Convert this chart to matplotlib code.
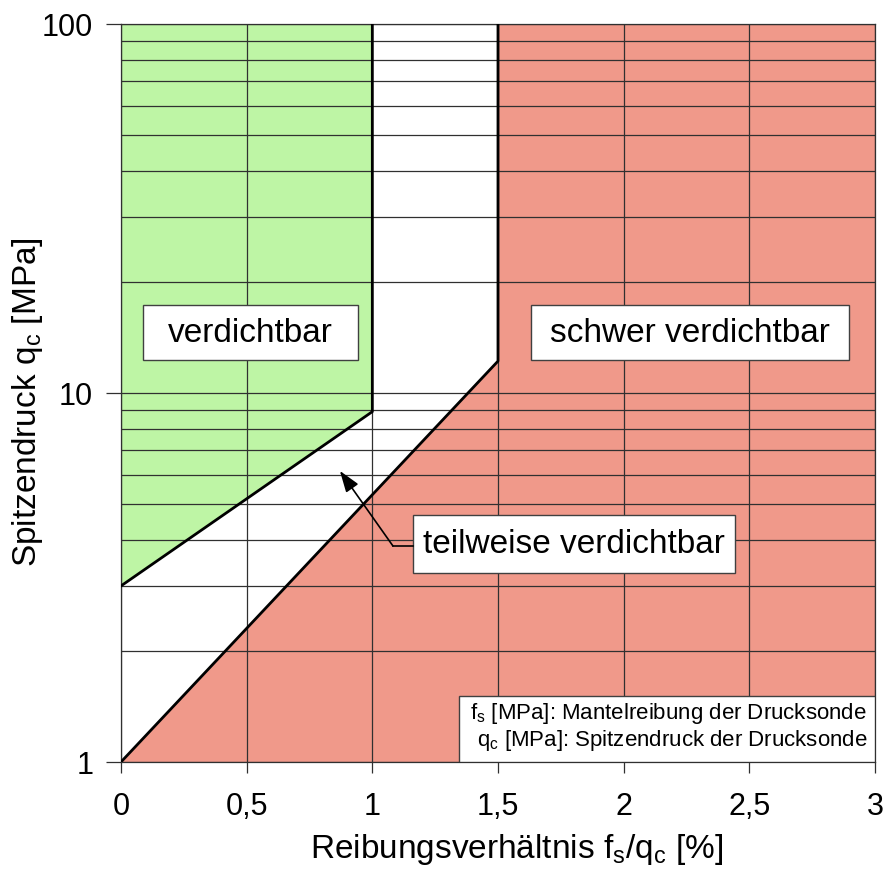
import numpy as np
import matplotlib.pyplot as plt
from matplotlib.patches import Rectangle

plt.rcParams['font.family'] = ['Liberation Sans', 'DejaVu Sans']
plt.rcParams['mathtext.fontset'] = 'custom'
plt.rcParams['mathtext.rm'] = 'Liberation Sans'
plt.rcParams['mathtext.it'] = 'Liberation Sans'

# Grenzlinien (Reibungsverhältnis [%], Spitzendruck [MPa])
grenze_gruen_x = [0, 1.0, 1.0]
grenze_gruen_y = [3.0, 8.9, 100]
grenze_rot_x = [0, 1.5, 1.5]
grenze_rot_y = [1.0, 12.2, 100]

x_ticks = [0, 0.5, 1, 1.5, 2, 2.5, 3]
x_labels = ['0', '0,5', '1', '1,5', '2', '2,5', '3']
y_ticks = [1, 10, 100]

gruen = '#BEF5A5'
rot = '#F0998A'

fig = plt.figure(figsize=(8.85, 8.7), dpi=100)
ax = fig.add_axes([0.1367, 0.123, 0.852, 0.8483])
ax.set_yscale('log')
ax.set_xlim(0, 3)
ax.set_ylim(1, 100)

# Flächen
ax.fill(grenze_gruen_x + [0], grenze_gruen_y + [100], color=gruen, lw=0, zorder=0.1)
ax.fill(grenze_rot_x + [3, 3], grenze_rot_y + [100, 1], color=rot, lw=0, zorder=0.1)

# Gitter
ax.set_axisbelow(True)
ax.set_xticks(x_ticks)
ax.set_xticklabels(x_labels)
ax.set_yticks(y_ticks)
ax.set_yticklabels(['1', '10', '100'])
ax.set_yticks([v * d for d in (1, 10) for v in range(2, 10)], minor=True)
ax.yaxis.set_minor_formatter(plt.NullFormatter())
ax.grid(True, which='both', color='#303030', lw=0.9)
ax.tick_params(axis='y', which='major', length=11, width=0.9, color='#303030',
               labelsize=22, pad=9)
ax.tick_params(axis='y', which='minor', length=0)
ax.tick_params(axis='x', length=8, width=0.9, color='#303030', labelsize=22, pad=13)
for s in ax.spines.values():
    s.set_color('#303030')
    s.set_linewidth(0.9)

# Grenzlinien
ax.plot(grenze_gruen_x, grenze_gruen_y, color='black', lw=2, zorder=3)
ax.plot(grenze_rot_x, grenze_rot_y, color='black', lw=2, zorder=3)


def kasten(x0, x1, y0, y1, text, xt, yt):
    ax.add_patch(Rectangle((x0, y0), x1 - x0, y1 - y0, fc='white', ec='#404040',
                           lw=1, zorder=4))
    ax.text(xt, yt, text, fontsize=24, ha='center', va='center', zorder=5)


kasten(0.0875, 0.943, 12.29, 17.32, 'verdichtbar', 0.515, 14.6)
kasten(1.632, 2.897, 12.29, 17.32, 'schwer verdichtbar', 2.265, 14.6)
kasten(1.162, 2.443, 3.25, 4.67, 'teilweise verdichtbar', 1.803, 3.92)

# Pfeil mit Knick
ax.plot([1.162, 1.082], [3.85, 3.85], color='black', lw=1.2, zorder=4)
ax.annotate('', xy=(0.871, 6.15), xytext=(1.082, 3.85),
            arrowprops=dict(arrowstyle='-|>,head_length=1.3,head_width=0.45',
                            color='black', lw=1.2, shrinkA=0, shrinkB=0), zorder=4)

# Legende
ax.add_patch(Rectangle((1.345, 1.0), 1.655, 0.51, fc='white', ec='#404040', lw=1, zorder=4))
ax.text(2.969, 1.366, r'f$_\mathrm{s}$ [MPa]: Mantelreibung der Drucksonde',
        fontsize=16, ha='right', va='center', zorder=5)
ax.text(2.969, 1.154, r'q$_\mathrm{c}$ [MPa]: Spitzendruck der Drucksonde',
        fontsize=16, ha='right', va='center', zorder=5)

ax.set_xlabel(r'Reibungsverhältnis f$_\mathrm{s}$/q$_\mathrm{c}$ [%]', fontsize=24, labelpad=7)
ax.set_ylabel(r'Spitzendruck q$_\mathrm{c}$ [MPa]', fontsize=24, labelpad=-2)
ax.xaxis.label.set_x(0.525)
ax.yaxis.label.set_y(0.489)

fig.savefig('out.png', dpi=100)
